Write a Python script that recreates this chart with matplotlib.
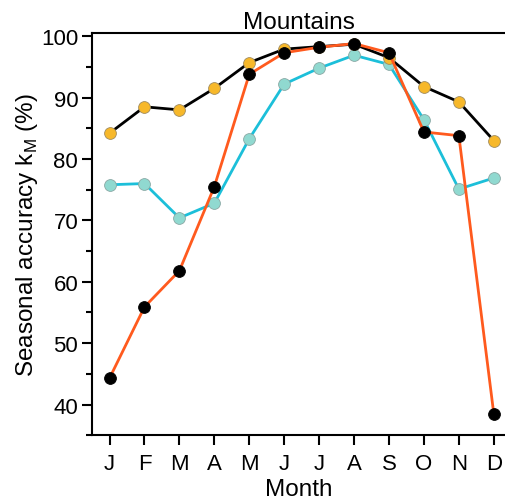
import matplotlib.pyplot as plt
from matplotlib.ticker import MultipleLocator

plt.rcParams['font.family'] = ['Liberation Sans', 'DejaVu Sans']

# Data
months = ["J", "F", "M", "A", "M", "J", "J", "A", "S", "O", "N", "D"]
yellow_vals = [84.2, 88.5, 88.0, 91.5, 95.7, 97.9, 98.3, 98.7, 96.5, 91.8, 89.3, 83.0]
cyan_vals = [75.8, 76.0, 70.4, 72.8, 83.3, 92.2, 94.8, 96.9, 95.4, 86.4, 75.1, 76.9]
black_vals = [44.3, 55.9, 61.8, 75.5, 93.8, 97.3, 98.2, 98.8, 97.3, 84.4, 83.8, 38.5]

x = list(range(len(months)))

fig = plt.figure(figsize=(5.06, 5.02), dpi=100)
ax = fig.add_axes([0.182, 0.131, 0.818, 0.801])

# Series: cyan first, then black/yellow, then orange/black on top
ax.plot(x, cyan_vals, color='#1cbfd9', lw=2, marker='o', ms=8.5,
        mfc='#90d9d0', mec='#8aa8a4', mew=0.6, zorder=2)
ax.plot(x, yellow_vals, color='black', lw=2, marker='o', ms=8.5,
        mfc='#f7b82a', mec='#a08c60', mew=0.6, zorder=3)
ax.plot(x, black_vals, color='#ff5a1e', lw=2, marker='o', ms=8.5,
        mfc='black', mec='black', mew=0.6, zorder=4)

ax.set_xlim(-0.5, 11.35)
ax.set_ylim(35, 100.5)
ax.set_xticks(x)
ax.set_xticklabels(months)
ax.yaxis.set_major_locator(MultipleLocator(10))
ax.yaxis.set_minor_locator(MultipleLocator(5))
ax.set_yticks(range(40, 101, 10))

ax.spines['right'].set_visible(False)
for s in ['left', 'bottom', 'top']:
    ax.spines[s].set_linewidth(1.5)

ax.tick_params(axis='both', which='major', direction='out', length=7, width=1.5,
               labelsize=16, pad=3)
ax.tick_params(axis='x', which='major', pad=6)
ax.tick_params(axis='y', which='minor', direction='out', length=4, width=1.5)

ax.set_xlabel("Month", fontsize=17.5, labelpad=3)
ax.set_ylabel(r"Seasonal accuracy k$_{\mathregular{M}}$ (%)", fontsize=17.5, labelpad=1)
ax.set_title("Mountains", fontsize=17.5, pad=3)

fig.savefig("out.png", dpi=100)
